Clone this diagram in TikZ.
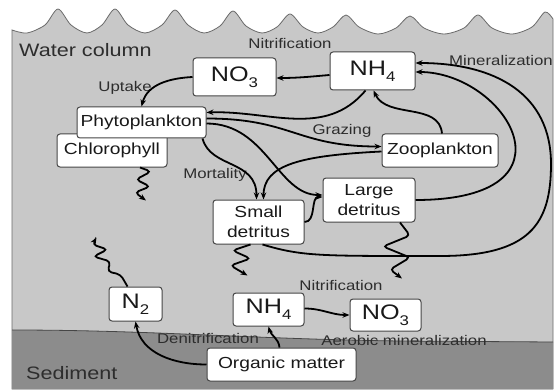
\documentclass[tikz,border=0pt]{standalone}
\usepackage{fontspec}
\setmainfont{Liberation Sans}[FakeStretch=1.2]
\usetikzlibrary{calc,arrows.meta}
\definecolor{water}{RGB}{200,200,200}
\definecolor{sed}{RGB}{140,140,140}
\definecolor{edge}{RGB}{70,70,70}
\definecolor{lab}{RGB}{45,45,45}
\newcommand{\dsub}[1]{\raisebox{-6pt}{\fontsize{14}{14}\selectfont #1}}
\begin{document}
\begin{tikzpicture}[x=1pt,y=1pt,
 box/.style={draw=edge,line width=1pt,fill=white,rounded corners=3pt,inner sep=0pt,align=center,text=black!90},
 bigf/.style={font=\fontsize{21}{21}\selectfont},
 midf/.style={font=\fontsize{16}{20}\selectfont},
 lbl/.style={text=lab,font=\fontsize{14}{14}\selectfont,inner sep=0pt},
 regionlbl/.style={text=lab,font=\fontsize{18}{18}\selectfont,inner sep=0pt,anchor=west},
 flow/.style={line width=1.8pt,-{Stealth[length=7pt,width=5.5pt]}},
 wav/.style={flow,rounded corners=4pt},
]
\useasboundingbox (0,0) rectangle (557,389);
\fill[white] (0,0) rectangle (557,389);
% water column
\path[fill=water,draw=edge!80,line width=0.8pt] (553,0) -- (12,0) -- (12,359) -- plot[smooth,tension=0.5] coordinates {(12,359)(27,356)
 (45,364)(58,380)(71,364)(87,356)
 (102,364)(115,380)(128,364)(145,356)
 (162,364)(175,379)(188,364)(204,356)
 (220,363)(233,378)(246,363)(262,356)
 (277,362)(290,375)(303,362)(318,356)
 (333,362)(346,374)(359,362)(378,355)
 (396,361)(410,373)(424,361)(444,355)
 (464,361)(478,374)(492,361)(512,355)
 (532,362)(545,377)(553,370)} -- (553,0);
% sediment
\fill[sed] (12,0) -- (12,59) .. controls (150,59) and (250,50) .. (400,48) -- (553,47) -- (553,0) -- cycle;
\draw[edge,line width=0.8pt] (12,59) .. controls (150,59) and (250,50) .. (400,48) -- (553,47);

% nodes
\node[box,bigf,minimum width=83,minimum height=38] (no3t) at (234.5,312) {NO\dsub{3}};
\node[box,bigf,minimum width=85,minimum height=38] (nh4t) at (372.5,318) {NH\dsub{4}};
\node[box,midf,minimum width=110,minimum height=33] (chl) at (112,238.5) {Chlorophyll};
\node[box,midf,minimum width=129,minimum height=31] (phyto) at (141.5,266.5) {Phytoplankton};
\node[box,midf,minimum width=116,minimum height=33] (zoo) at (440,238.5) {Zooplankton};
\node[box,midf,minimum width=92,minimum height=44] (large) at (369,189) {Large\\detritus};
\node[box,midf,minimum width=91,minimum height=44] (small) at (258.5,167) {Small\\detritus};
\node[box,bigf,minimum width=53,minimum height=34] (n2) at (135.5,85) {N\dsub{2}};
\node[box,bigf,minimum width=71,minimum height=33] (nh4b) at (268.5,79.5) {NH\dsub{4}};
\node[box,bigf,minimum width=71,minimum height=32] (no3b) at (385.5,74) {NO\dsub{3}};
\node[box,midf,minimum width=149,minimum height=33] (om) at (281.5,24.5) {Organic matter};

% labels
\node[regionlbl] (wc) at (19,339) {Water column};
\node[regionlbl] (sedl) at (26,16) {Sediment};
\node[lbl] (nitt) at (290,346) {Nitrification};
\node[lbl] (minl) at (501,329) {Mineralization};
\node[lbl] (upl) at (125,301) {Uptake};
\node[lbl] (grl) at (342,258) {Grazing};
\node[lbl] (mol) at (215,214) {Mortality};
\node[lbl] (nitb) at (341,104) {Nitrification};
\node[lbl] (aerl) at (404,49) {Aerobic mineralization};
\node[lbl] (denl) at (208,51) {Denitrification};

% connectors
\draw[flow] ($(nh4t.west)+(0,-4)$) to[out=185,in=0] ($(no3t.east)+(0,-1)$);
\draw[flow] (no3t.west) to[out=183,in=75] (phyto.north);
\draw[flow] ($(nh4t.south)+(-7,0)$) to[out=230,in=2] ($(phyto.east)+(0,10)$);
\draw[flow] ($(zoo.north)+(2,0)$) to[out=95,in=-65] ($(nh4t.south)+(1,0)$);
\draw[flow] ($(phyto.east)+(0,4)$) .. controls +(85,0) and +(-85,0) .. ($(zoo.west)+(0,4)$);
\draw[flow] ($(phyto.east)+(0,-1)$) .. controls +(60,0) and +(-45,0) .. ($(large.west)+(0,5)$);
\draw[flow] ($(phyto.south east)+(-4,0)$) .. controls +(8,-30) and +(0,40) .. ($(small.north)+(-2,0)$);
\draw[flow] ($(zoo.west)+(0,-1)$) .. controls +(-80,-4) and +(0,35) .. ($(small.north)+(5,0)$);
\draw[flow] (small.east) .. controls +(12,0) and +(-12,0) .. ($(large.west)+(0,3)$);
\draw[flow] (large.east) .. controls +(170,0) and +(90,0) .. ($(nh4t.east)+(0,-1)$);
\coordinate (lp1) at (440,133);
\coordinate (lp2) at (551,225);
\draw[flow] ($(small.south)+(4,0)$) .. controls +(40,-12) and +(-120,0) .. (lp1) .. controls +(90,0) and +(0,-60) .. (lp2) .. controls +(0,70) and +(80,0) .. ($(nh4t.east)+(0,8)$);
% sinking / escaping
\draw[wav] ($(chl.south)+(28,0)$) -- ++(11,-4) -- ++(-15,-8) -- ++(14,-7) -- ++(-15,-6) -- ++(11,-8);
\draw[wav] ($(small.south)+(-8,0)$) -- ++(-18,-6) -- ++(18,-8) -- ++(-20,-7) -- ++(17,-10);
\draw[wav] ($(large.south)+(31,0)$) -- ++(10,-13) -- ++(-27,-11) -- ++(27,-11) -- ++(-20,-12) -- ++(12,-9);
\draw[wav] ($(n2.north)+(-8,0)$) -- ++(-7,12) -- ++(-13,3) -- ++(3,10) -- ++(-17,5) -- ++(14,7) -- ++(-15,5) -- ++(4,7);
% sediment fluxes
\draw[flow] (om.west) to[out=180,in=-80] (n2.south);
\draw[flow] ($(om.north)+(-2,0)$) to[out=95,in=-75] (nh4b.south);
\draw[flow] ($(nh4b.east)+(0,1)$) to[out=0,in=180] (no3b.west);
\end{tikzpicture}
\end{document}
